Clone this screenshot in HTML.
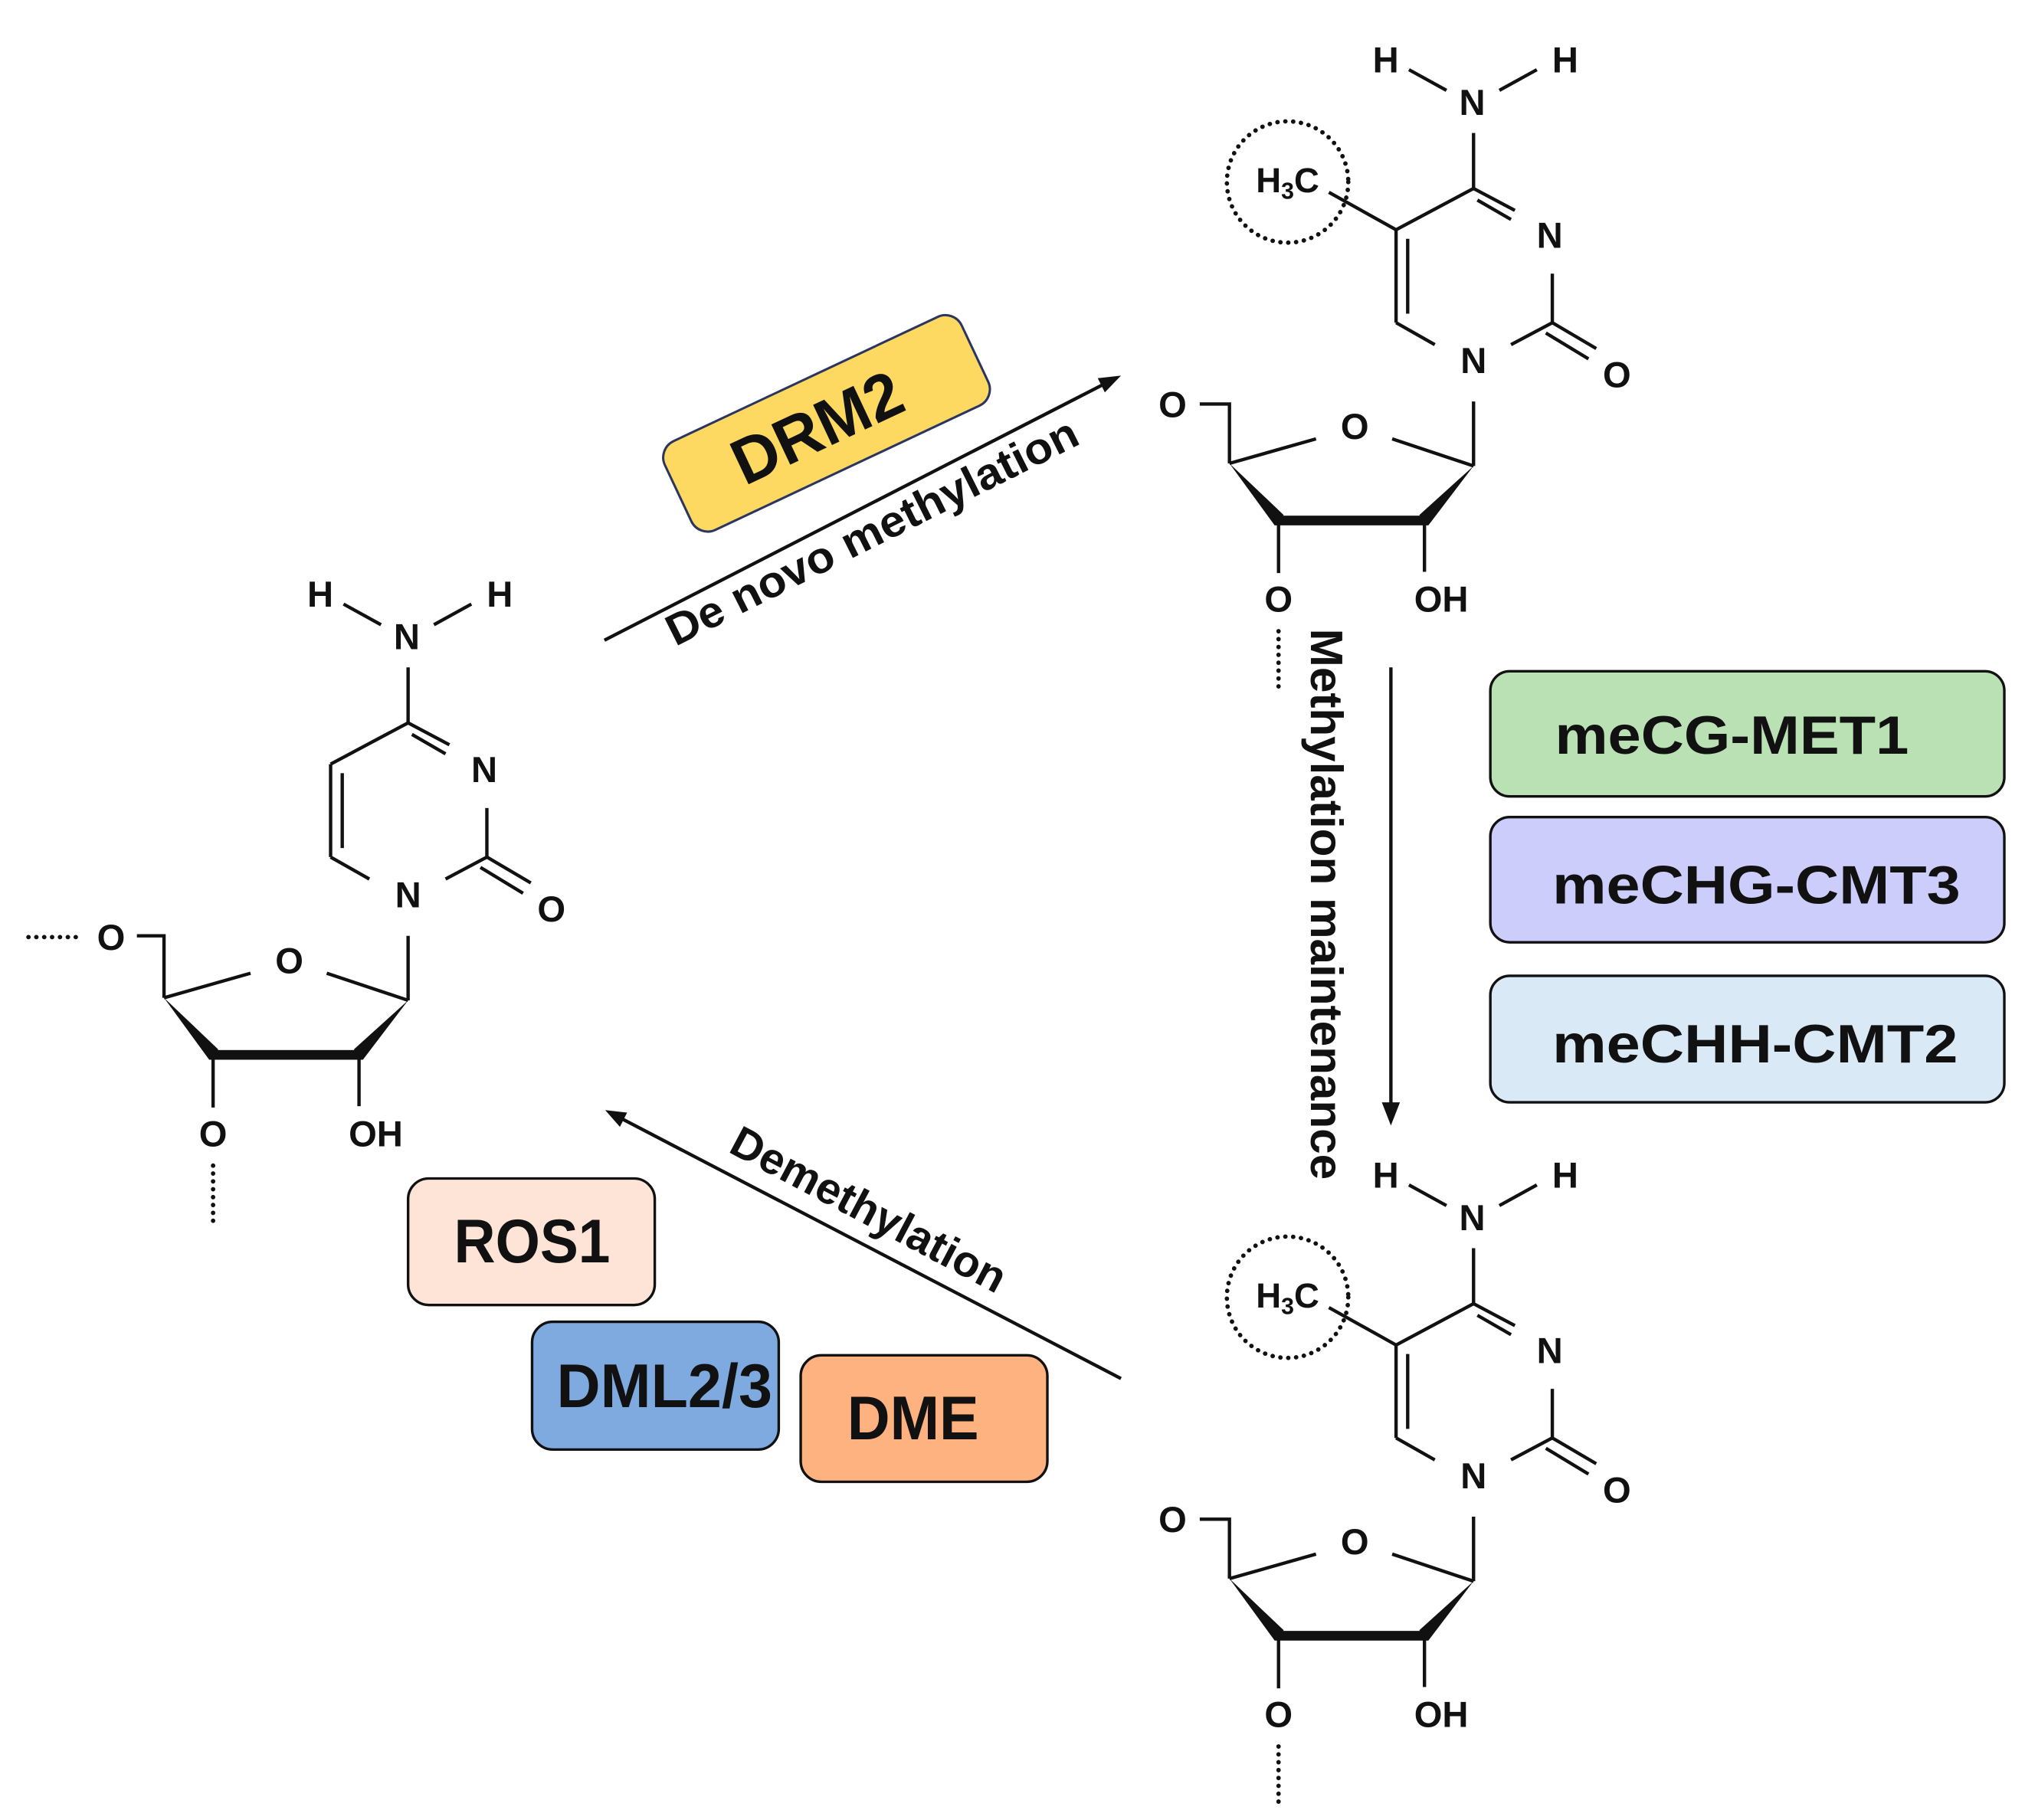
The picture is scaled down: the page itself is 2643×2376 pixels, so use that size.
<!DOCTYPE html>
<html><head><meta charset="utf-8"><style>
html,body{margin:0;padding:0;background:#fff;}
svg{display:block;}
text{font-family:"Liberation Sans",Arial,sans-serif;font-weight:bold;fill:#111;}
.a{font-size:28px;text-anchor:middle;}
.ln{stroke:#111;stroke-width:2.6;fill:none;stroke-linecap:butt;}
.dot{stroke:#111;stroke-width:3.4;fill:none;stroke-dasharray:0.1 6;stroke-linecap:round;}
</style></head><body>
<svg width="2643" height="2376" viewBox="0 0 1568 1410" preserveAspectRatio="none" xmlns="http://www.w3.org/2000/svg">

<!-- LEFT MOLECULE (cytidine) -->
<g>
 <g class="ln">
  <line x1="266" y1="468" x2="295" y2="484"/>
  <line x1="336" y1="484" x2="365" y2="468"/>
  <line x1="316" y1="517" x2="316" y2="560"/>
  <line x1="316" y1="560" x2="348" y2="577"/>
  <line x1="319" y1="569" x2="345" y2="584"/>
  <line x1="316" y1="560" x2="256" y2="592"/>
  <line x1="256" y1="592" x2="256" y2="664"/>
  <line x1="265" y1="599" x2="265" y2="657"/>
  <line x1="256" y1="664" x2="286" y2="681"/>
  <line x1="345" y1="681" x2="377" y2="664"/>
  <line x1="377" y1="626" x2="377" y2="664"/>
  <line x1="377" y1="664" x2="411" y2="684"/>
  <line x1="372" y1="672" x2="405" y2="692"/>
  <line x1="316" y1="725" x2="316" y2="775"/>
  <line x1="253" y1="754" x2="316" y2="775"/>
  <line x1="127" y1="773" x2="194" y2="754"/>
  <polyline points="106,725 127,725 127,773"/>
  <line x1="165" y1="817" x2="165" y2="858"/>
  <line x1="278" y1="817" x2="278" y2="857"/>
 </g>
 <line class="dot" x1="22" y1="726" x2="64" y2="726"/>
 <line class="dot" x1="165" y1="903" x2="165" y2="946"/>
 <polygon points="127,773 169,813 162,821" fill="#111"/>
 <rect x="162" y="813.5" width="119" height="7.5" fill="#111"/>
 <polygon points="316,775 281,821 274,813" fill="#111"/>
 <g class="a">
  <text x="248" y="470">H</text><text x="387" y="470">H</text>
  <text x="315" y="503">N</text><text x="375" y="606">N</text>
  <text x="316" y="703">N</text><text x="427" y="714">O</text>
  <text x="224" y="754">O</text><text x="86" y="736">O</text>
  <text x="165" y="888">O</text><text x="291" y="888">OH</text>
 </g>
</g>

<!-- TOP RIGHT MOLECULE (5mC) -->
<g transform="translate(825,-414)">
 <g class="ln">
  <line x1="266" y1="468" x2="295" y2="484"/>
  <line x1="336" y1="484" x2="365" y2="468"/>
  <line x1="316" y1="517" x2="316" y2="560"/>
  <line x1="316" y1="560" x2="348" y2="577"/>
  <line x1="319" y1="569" x2="345" y2="584"/>
  <line x1="316" y1="560" x2="256" y2="592"/>
  <line x1="256" y1="592" x2="256" y2="664"/>
  <line x1="265" y1="599" x2="265" y2="657"/>
  <line x1="256" y1="664" x2="286" y2="681"/>
  <line x1="345" y1="681" x2="377" y2="664"/>
  <line x1="377" y1="626" x2="377" y2="664"/>
  <line x1="377" y1="664" x2="411" y2="684"/>
  <line x1="372" y1="672" x2="405" y2="692"/>
  <line x1="316" y1="725" x2="316" y2="775"/>
  <line x1="253" y1="754" x2="316" y2="775"/>
  <line x1="127" y1="773" x2="194" y2="754"/>
  <polyline points="104,727 127,727 127,773"/>
  <line x1="165" y1="817" x2="165" y2="858"/>
  <line x1="278" y1="817" x2="278" y2="857"/>
  <line x1="256" y1="592" x2="204" y2="563"/>
 </g>
 <circle class="dot" cx="172" cy="555" r="47"/>
 <line class="dot" x1="165" y1="903" x2="165" y2="946"/>
 <polygon points="127,773 169,813 162,821" fill="#111"/>
 <rect x="162" y="813.5" width="119" height="7.5" fill="#111"/>
 <polygon points="316,775 281,821 274,813" fill="#111"/>
 <g class="a">
  <text x="248" y="470">H</text><text x="387" y="470">H</text>
  <text x="315" y="503">N</text><text x="375" y="606">N</text>
  <text x="316" y="703">N</text><text x="427" y="714">O</text>
  <text x="224" y="754">O</text><text x="83" y="737">O</text>
  <text x="165" y="888">O</text><text x="291" y="888">OH</text>
  <text x="172" y="563" style="font-size:27px">H<tspan style="font-size:18px" dy="5">3</tspan><tspan dy="-5">C</tspan></text>
 </g>
</g>

<!-- BOTTOM RIGHT MOLECULE (5mC) -->
<g transform="translate(825,450)">
 <g class="ln">
  <line x1="266" y1="468" x2="295" y2="484"/>
  <line x1="336" y1="484" x2="365" y2="468"/>
  <line x1="316" y1="517" x2="316" y2="560"/>
  <line x1="316" y1="560" x2="348" y2="577"/>
  <line x1="319" y1="569" x2="345" y2="584"/>
  <line x1="316" y1="560" x2="256" y2="592"/>
  <line x1="256" y1="592" x2="256" y2="664"/>
  <line x1="265" y1="599" x2="265" y2="657"/>
  <line x1="256" y1="664" x2="286" y2="681"/>
  <line x1="345" y1="681" x2="377" y2="664"/>
  <line x1="377" y1="626" x2="377" y2="664"/>
  <line x1="377" y1="664" x2="411" y2="684"/>
  <line x1="372" y1="672" x2="405" y2="692"/>
  <line x1="316" y1="725" x2="316" y2="775"/>
  <line x1="253" y1="754" x2="316" y2="775"/>
  <line x1="127" y1="773" x2="194" y2="754"/>
  <polyline points="104,727 127,727 127,773"/>
  <line x1="165" y1="817" x2="165" y2="858"/>
  <line x1="278" y1="817" x2="278" y2="857"/>
  <line x1="256" y1="592" x2="204" y2="563"/>
 </g>
 <circle class="dot" cx="172" cy="555" r="47"/>
 <line class="dot" x1="165" y1="903" x2="165" y2="946"/>
 <polygon points="127,773 169,813 162,821" fill="#111"/>
 <rect x="162" y="813.5" width="119" height="7.5" fill="#111"/>
 <polygon points="316,775 281,821 274,813" fill="#111"/>
 <g class="a">
  <text x="248" y="470">H</text><text x="387" y="470">H</text>
  <text x="315" y="503">N</text><text x="375" y="606">N</text>
  <text x="316" y="703">N</text><text x="427" y="714">O</text>
  <text x="224" y="754">O</text><text x="83" y="737">O</text>
  <text x="165" y="888">O</text><text x="291" y="888">OH</text>
  <text x="172" y="563" style="font-size:27px">H<tspan style="font-size:18px" dy="5">3</tspan><tspan dy="-5">C</tspan></text>
 </g>
</g>

<!-- DE NOVO ARROW -->
<line class="ln" x1="468" y1="496" x2="856" y2="297"/>
<polygon points="868,291 855.5,304 850,293" fill="#111"/>
<g transform="translate(640,328) rotate(-25.2)">
 <rect x="-127" y="-38" width="254" height="76" rx="14" fill="#fdd962" stroke="#2a3560" stroke-width="1.8"/>
 <text x="-8" y="17" style="font-size:50px" text-anchor="middle" textLength="140" lengthAdjust="spacingAndGlyphs">DRM2</text>
</g>
<text transform="translate(523,501) rotate(-26.6)" style="font-size:34px" textLength="352" lengthAdjust="spacingAndGlyphs">De novo methylation</text>

<!-- MAINTENANCE ARROW -->
<line class="ln" x1="1077" y1="517" x2="1077" y2="858"/>
<polygon points="1077,872 1070,854 1084,854" fill="#111"/>
<text transform="translate(1015,487) rotate(90)" style="font-size:35px" textLength="427" lengthAdjust="spacingAndGlyphs">Methylation maintenance</text>

<rect x="1154" y="520" width="398" height="97" rx="15" fill="#b9e1b4" stroke="#111" stroke-width="2"/>
<text x="1204" y="584" style="font-size:42px" textLength="274" lengthAdjust="spacingAndGlyphs">meCG-MET1</text>
<rect x="1154" y="633" width="398" height="97" rx="15" fill="#cdcdfb" stroke="#111" stroke-width="2"/>
<text x="1202" y="700" style="font-size:42px" textLength="316" lengthAdjust="spacingAndGlyphs">meCHG-CMT3</text>
<rect x="1154" y="756" width="398" height="98" rx="15" fill="#d9e9f6" stroke="#111" stroke-width="2"/>
<text x="1202" y="823" style="font-size:42px" textLength="314" lengthAdjust="spacingAndGlyphs">meCHH-CMT2</text>

<!-- DEMETHYLATION ARROW -->
<line class="ln" x1="868" y1="1068" x2="482" y2="867"/>
<polygon points="468.6,860 485.6,862 480,873" fill="#111"/>
<text transform="translate(563,892) rotate(27.9)" style="font-size:34px" textLength="236" lengthAdjust="spacingAndGlyphs">Demethylation</text>

<rect x="316" y="913" width="191" height="98" rx="16" fill="#fde4d6" stroke="#111" stroke-width="2"/>
<text x="412" y="978" style="font-size:48px" text-anchor="middle" textLength="121" lengthAdjust="spacingAndGlyphs">ROS1</text>
<rect x="412" y="1024" width="191" height="99" rx="16" fill="#7eaae0" stroke="#111" stroke-width="2"/>
<text x="431" y="1090" style="font-size:48px" textLength="167" lengthAdjust="spacingAndGlyphs">DML2/3</text>
<rect x="620" y="1050" width="191" height="98" rx="16" fill="#fdb280" stroke="#111" stroke-width="2"/>
<text x="656" y="1115" style="font-size:48px" textLength="102" lengthAdjust="spacingAndGlyphs">DME</text>
</svg>
</body></html>
